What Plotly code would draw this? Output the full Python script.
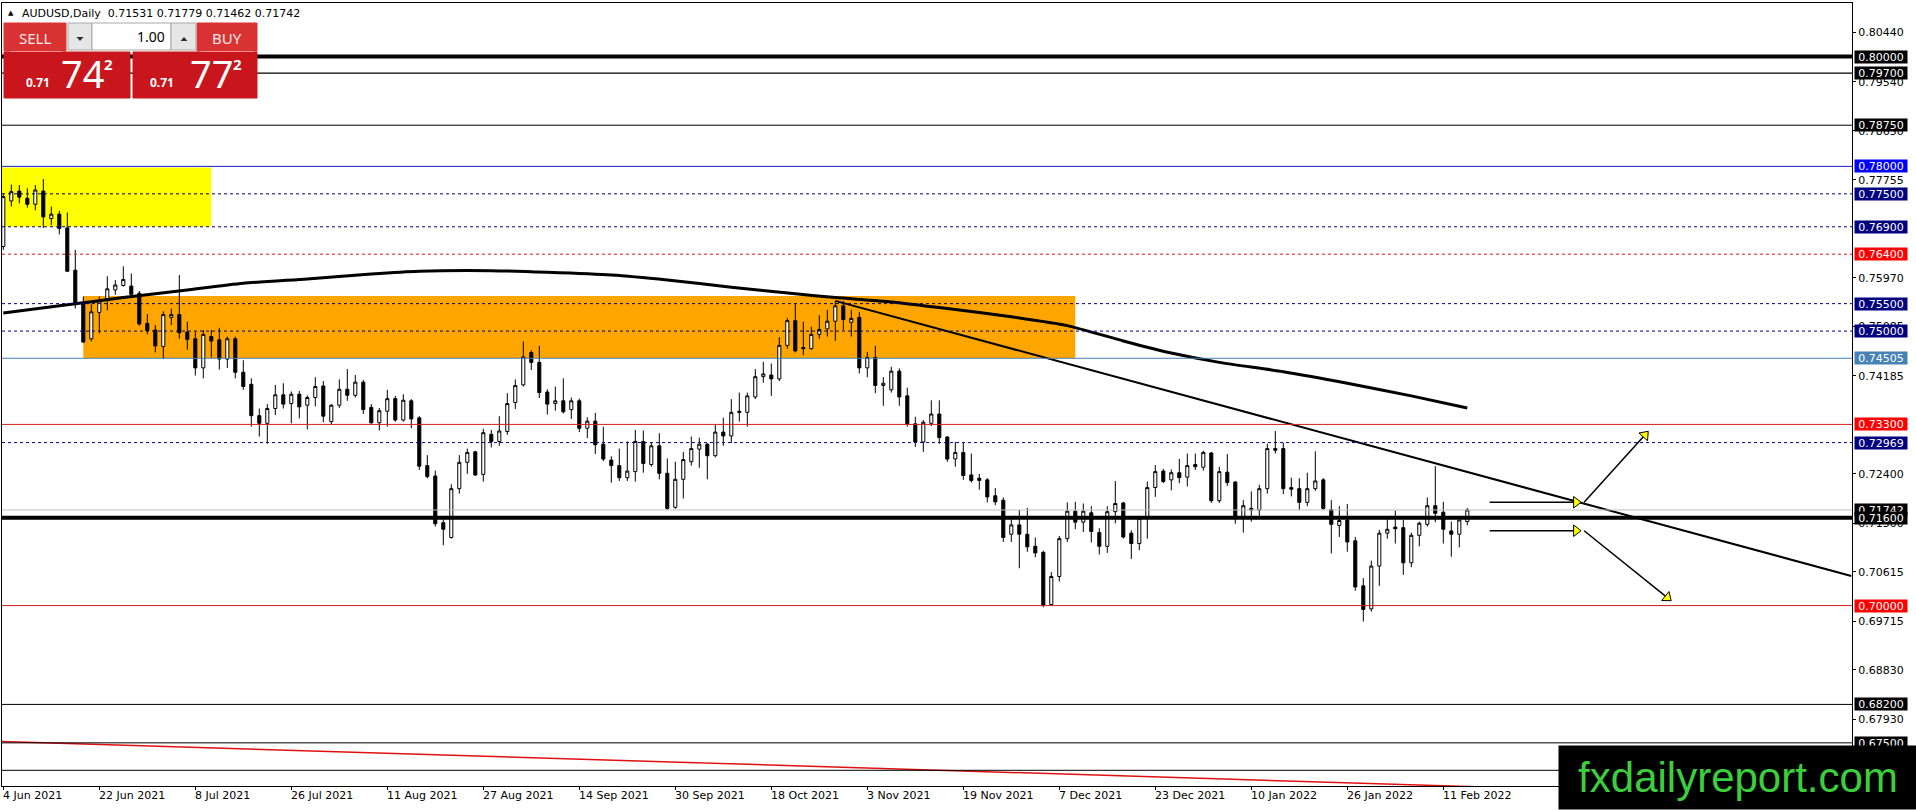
import math
import plotly.graph_objects as go

# canvas and plot area in screen pixels (MT4 style chart)
W, H = 1916, 810
ML, MR, MT, MB = 2, 64, 3, 24
PW, PH = W - ML - MR, H - MT - MB
BAR_PX = 8.0
X_LO = -1.3 / BAR_PX
X_HI = X_LO + PW / BAR_PX
Y_HI, Y_LO = 0.80976, 0.66714

# AUDUSD daily candles, 4 Jun 2021 .. 16 Feb 2022
opens = [
    0.7654, 0.7737, 0.7755, 0.7742, 0.7731, 0.7755, 0.7705, 0.7713, 0.7688, 0.7611,
    0.7551, 0.7486, 0.7534, 0.7557, 0.7575, 0.7583, 0.7582, 0.7569, 0.7514, 0.7502,
    0.7472, 0.7525, 0.7530, 0.7498, 0.7486, 0.7433, 0.7490, 0.7484, 0.7449, 0.7486,
    0.7425, 0.7403, 0.7346, 0.7332, 0.7359, 0.7384, 0.7368, 0.7385, 0.7365, 0.7379,
    0.7400, 0.7335, 0.7365, 0.7394, 0.7383, 0.7407, 0.7361, 0.7333, 0.7354, 0.7377,
    0.7338, 0.7373, 0.7342, 0.7255, 0.7236, 0.7151, 0.7124, 0.7213, 0.7261, 0.7280,
    0.7239, 0.7312, 0.7299, 0.7317, 0.7370, 0.7402, 0.7461, 0.7443, 0.7389, 0.7368,
    0.7373, 0.7357, 0.7373, 0.7323, 0.7336, 0.7294, 0.7265, 0.7255, 0.7233, 0.7244,
    0.7299, 0.7257, 0.7291, 0.7241, 0.7179, 0.7230, 0.7262, 0.7285, 0.7294, 0.7273,
    0.7316, 0.7309, 0.7354, 0.7352, 0.7380, 0.7417, 0.7420, 0.7413, 0.7474, 0.7519,
    0.7470, 0.7468, 0.7494, 0.7504, 0.7518, 0.7546, 0.7516, 0.7525, 0.7433, 0.7452,
    0.7401, 0.7393, 0.7427, 0.7382, 0.7331, 0.7298, 0.7332, 0.7349, 0.7307, 0.7267,
    0.7279, 0.7238, 0.7232, 0.7229, 0.7200, 0.7192, 0.7130, 0.7147, 0.7130, 0.7108,
    0.7097, 0.7002, 0.7053, 0.7122, 0.7172, 0.7152, 0.7169, 0.7133, 0.7108, 0.7171,
    0.7187, 0.7132, 0.7113, 0.7159, 0.7215, 0.7245, 0.7229, 0.7242, 0.7234, 0.7257,
    0.7252, 0.7278, 0.7191, 0.7243, 0.7225, 0.7162, 0.7177, 0.7174, 0.7213, 0.7286,
    0.7286, 0.7215, 0.7213, 0.7188, 0.7213, 0.7229, 0.7175, 0.7146, 0.7156, 0.7118,
    0.7036, 0.6994, 0.7072, 0.7132, 0.7143, 0.7142, 0.7078, 0.7128, 0.7148, 0.7182,
    0.7170, 0.7136, 0.7130, 0.71531,
]
highs = [
    0.7750, 0.7767, 0.7766, 0.7760, 0.7766, 0.7777, 0.7727, 0.7719, 0.7716, 0.7648,
    0.7563, 0.7549, 0.7563, 0.7600, 0.7593, 0.7618, 0.7605, 0.7573, 0.7531, 0.7511,
    0.7536, 0.7541, 0.7602, 0.7517, 0.7499, 0.7502, 0.7502, 0.7506, 0.7490, 0.7490,
    0.7447, 0.7414, 0.7359, 0.7367, 0.7402, 0.7405, 0.7390, 0.7391, 0.7383, 0.7416,
    0.7409, 0.7367, 0.7412, 0.7431, 0.7420, 0.7411, 0.7367, 0.7360, 0.7393, 0.7382,
    0.7385, 0.7376, 0.7345, 0.7274, 0.7246, 0.7159, 0.7221, 0.7274, 0.7286, 0.7282,
    0.7322, 0.7320, 0.7345, 0.7387, 0.7412, 0.7481, 0.7465, 0.7473, 0.7394, 0.7399,
    0.7414, 0.7379, 0.7377, 0.7343, 0.7351, 0.7326, 0.7272, 0.7286, 0.7299, 0.7320,
    0.7319, 0.7297, 0.7314, 0.7268, 0.7262, 0.7280, 0.7308, 0.7306, 0.7296, 0.7329,
    0.7342, 0.7376, 0.7388, 0.7388, 0.7431, 0.7444, 0.7441, 0.7489, 0.7524, 0.7550,
    0.7517, 0.7508, 0.7529, 0.7539, 0.7555, 0.7555, 0.7539, 0.7535, 0.7462, 0.7473,
    0.7416, 0.7435, 0.7432, 0.7397, 0.7344, 0.7338, 0.7374, 0.7374, 0.7309, 0.7298,
    0.7298, 0.7277, 0.7240, 0.7232, 0.7214, 0.7197, 0.7159, 0.7174, 0.7178, 0.7124,
    0.7100, 0.7061, 0.7127, 0.7188, 0.7189, 0.7186, 0.7181, 0.7141, 0.7181, 0.7227,
    0.7189, 0.7137, 0.7163, 0.7226, 0.7256, 0.7249, 0.7248, 0.7267, 0.7277, 0.7277,
    0.7282, 0.7280, 0.7253, 0.7276, 0.7227, 0.7192, 0.7208, 0.7220, 0.7295, 0.7318,
    0.7297, 0.7233, 0.7232, 0.7242, 0.7281, 0.7232, 0.7192, 0.7181, 0.7185, 0.7125,
    0.7050, 0.7082, 0.7138, 0.7162, 0.7173, 0.7156, 0.7133, 0.7153, 0.7197, 0.7254,
    0.7189, 0.7153, 0.7156, 0.71779,
]
lows = [
    0.7648, 0.7727, 0.7733, 0.7725, 0.7720, 0.7688, 0.7693, 0.7676, 0.7608, 0.7541,
    0.7478, 0.7481, 0.7496, 0.7538, 0.7566, 0.7581, 0.7560, 0.7510, 0.7494, 0.7461,
    0.7449, 0.7511, 0.7486, 0.7466, 0.7419, 0.7414, 0.7452, 0.7430, 0.7433, 0.7414,
    0.7393, 0.7326, 0.7308, 0.7295, 0.7347, 0.7359, 0.7332, 0.7341, 0.7321, 0.7363,
    0.7334, 0.7330, 0.7360, 0.7373, 0.7379, 0.7349, 0.7331, 0.7319, 0.7326, 0.7335,
    0.7335, 0.7323, 0.7247, 0.7232, 0.7144, 0.7110, 0.7122, 0.7204, 0.7240, 0.7236,
    0.7226, 0.7288, 0.7291, 0.7311, 0.7358, 0.7399, 0.7429, 0.7378, 0.7348, 0.7355,
    0.7350, 0.7340, 0.7316, 0.7305, 0.7276, 0.7263, 0.7224, 0.7227, 0.7227, 0.7226,
    0.7242, 0.7253, 0.7230, 0.7174, 0.7176, 0.7195, 0.7255, 0.7251, 0.7230, 0.7270,
    0.7291, 0.7296, 0.7335, 0.7326, 0.7376, 0.7406, 0.7382, 0.7409, 0.7468, 0.7461,
    0.7456, 0.7466, 0.7486, 0.7490, 0.7482, 0.7502, 0.7490, 0.7423, 0.7416, 0.7387,
    0.7364, 0.7388, 0.7364, 0.7326, 0.7289, 0.7280, 0.7327, 0.7295, 0.7262, 0.7253,
    0.7229, 0.7224, 0.7211, 0.7188, 0.7183, 0.7116, 0.7116, 0.7068, 0.7098, 0.7088,
    0.6997, 0.7000, 0.7044, 0.7116, 0.7139, 0.7134, 0.7115, 0.7093, 0.7096, 0.7150,
    0.7122, 0.7085, 0.7101, 0.7122, 0.7198, 0.7223, 0.7210, 0.7223, 0.7217, 0.7247,
    0.7246, 0.7187, 0.7187, 0.7218, 0.7149, 0.7133, 0.7153, 0.7162, 0.7204, 0.7277,
    0.7203, 0.7199, 0.7174, 0.7181, 0.7209, 0.7174, 0.7095, 0.7125, 0.7098, 0.7027,
    0.6971, 0.6989, 0.7036, 0.7122, 0.7113, 0.7056, 0.7070, 0.7108, 0.7144, 0.7152,
    0.7113, 0.7089, 0.7106, 0.71462,
]
closes = [
    0.7745, 0.7754, 0.7744, 0.7731, 0.7757, 0.7708, 0.7713, 0.7687, 0.7609, 0.7551,
    0.7480, 0.7535, 0.7555, 0.7577, 0.7584, 0.7594, 0.7567, 0.7513, 0.7501, 0.7473,
    0.7530, 0.7530, 0.7497, 0.7485, 0.7433, 0.7494, 0.7482, 0.7449, 0.7486, 0.7425,
    0.7399, 0.7346, 0.7332, 0.7359, 0.7384, 0.7367, 0.7385, 0.7362, 0.7379, 0.7399,
    0.7345, 0.7365, 0.7394, 0.7383, 0.7407, 0.7357, 0.7333, 0.7355, 0.7377, 0.7338,
    0.7374, 0.7340, 0.7254, 0.7235, 0.7149, 0.7139, 0.7213, 0.7261, 0.7279, 0.7238,
    0.7315, 0.7299, 0.7318, 0.7368, 0.7401, 0.7453, 0.7443, 0.7388, 0.7367, 0.7373,
    0.7353, 0.7373, 0.7323, 0.7336, 0.7293, 0.7267, 0.7255, 0.7233, 0.7245, 0.7299,
    0.7259, 0.7291, 0.7241, 0.7177, 0.7230, 0.7266, 0.7286, 0.7294, 0.7273, 0.7316,
    0.7309, 0.7352, 0.7352, 0.7382, 0.7417, 0.7422, 0.7413, 0.7474, 0.7519, 0.7464,
    0.7468, 0.7494, 0.7503, 0.7518, 0.7546, 0.7521, 0.7523, 0.7433, 0.7452, 0.7401,
    0.7405, 0.7427, 0.7380, 0.7331, 0.7298, 0.7334, 0.7349, 0.7306, 0.7267, 0.7279,
    0.7237, 0.7228, 0.7228, 0.7198, 0.7189, 0.7124, 0.7147, 0.7130, 0.7107, 0.7096,
    0.7001, 0.7053, 0.7122, 0.7172, 0.7152, 0.7172, 0.7135, 0.7108, 0.7171, 0.7186,
    0.7125, 0.7113, 0.7159, 0.7215, 0.7244, 0.7226, 0.7242, 0.7233, 0.7255, 0.7253,
    0.7279, 0.7191, 0.7244, 0.7224, 0.7162, 0.7182, 0.7174, 0.7213, 0.7286, 0.7283,
    0.7213, 0.7212, 0.7188, 0.7213, 0.7227, 0.7177, 0.7148, 0.7155, 0.7116, 0.7034,
    0.6993, 0.7072, 0.7132, 0.7139, 0.7140, 0.7078, 0.7128, 0.7150, 0.7182, 0.7168,
    0.7139, 0.7130, 0.7156, 0.71742,
]

date_idx = list(range(0, 181, 12))
date_labels = ['4 Jun 2021', '22 Jun 2021', '8 Jul 2021', '26 Jul 2021', '11 Aug 2021',
               '27 Aug 2021', '14 Sep 2021', '30 Sep 2021', '18 Oct 2021', '3 Nov 2021',
               '19 Nov 2021', '7 Dec 2021', '23 Dec 2021', '10 Jan 2022', '26 Jan 2022',
               '11 Feb 2022']

# moving average read at a handful of bars
ma_idx = [0, 8, 15, 23, 30, 38, 46, 52, 61, 68, 76, 83, 91, 99, 104, 111, 118, 126,
          133, 140, 146, 152, 160, 168, 176, 183]
ma_vals = [0.7533, 0.7548, 0.7561, 0.7575, 0.7587, 0.7595, 0.7604, 0.7609, 0.7610,
           0.7607, 0.7602, 0.7593, 0.7580, 0.7568, 0.7561, 0.7553, 0.7541, 0.7526,
           0.7510, 0.7482, 0.7460, 0.7443, 0.7426, 0.7405, 0.7382, 0.7360]

trend_idx = [104, 231]
trend_vals = [0.7555, 0.7054]
red_trend_idx = [-1, 231]
red_trend_vals = [0.6753, 0.6649]

# horizontal levels: price, colour, width, dash
levels = [
    (0.80000, 'black', 4, 'solid'),
    (0.79700, 'black', 1.3, 'solid'),
    (0.78750, 'black', 1, 'solid'),
    (0.78000, '#1c1cc8', 1, 'solid'),
    (0.77500, '#000080', 1, '3px,3px'),
    (0.76900, '#000080', 1, '3px,3px'),
    (0.76400, '#e01010', 1, '3px,3px'),
    (0.75500, '#000080', 1, '3px,3px'),
    (0.75000, '#000080', 1, '3px,3px'),
    (0.74505, '#4682b4', 1, 'solid'),
    (0.73300, '#d81e1e', 1, 'solid'),
    (0.72969, '#000080', 1, '3px,3px'),
    (0.71742, '#c0c0c0', 1, 'solid'),
    (0.71600, 'black', 4, 'solid'),
    (0.70000, '#d01c1c', 1, 'solid'),
    (0.68200, 'black', 1, 'solid'),
    (0.67500, 'black', 1, 'solid'),
    (0.67000, 'black', 1, 'solid'),
]
box_labels = [
    (0.80000, 'black'), (0.79700, 'black'), (0.78750, 'black'), (0.78000, '#0000ff'),
    (0.77500, '#000080'), (0.76900, '#000080'), (0.76400, '#ff0000'), (0.75500, '#000080'),
    (0.75000, '#000080'), (0.74505, '#4682b4'), (0.73300, '#ff0000'), (0.72969, '#000080'),
    (0.71742, 'black'), (0.71600, 'black'), (0.70000, '#ff0000'), (0.68200, 'black'),
    (0.67500, 'black'),
]
# scale labels (the ones fully hidden behind boxes are left out)
axis_ticks = [0.80440, 0.79540, 0.78650, 0.77755, 0.75970, 0.75085, 0.74185,
              0.72400, 0.71500, 0.70615, 0.69715, 0.68830, 0.67930]

yellow_idx, yellow_px = [-3, 26], [0.7690, 0.7798]
orange_idx, orange_px = [10, 134], [0.74505, 0.7564]

# arrows (start bar, start price, end bar, end price)
arrows = [
    (185.8, 0.71882, 196.6, 0.71882),
    (185.8, 0.71364, 196.6, 0.71364),
    (197.6, 0.71882, 205.2, 0.73107),
    (197.6, 0.71364, 208.0, 0.70146),
]


def px(x):
    return (x - ML) / PW


def py(y):
    return 1 - (y - MT) / PH


fig = go.Figure()

fig.add_trace(go.Candlestick(
    x=list(range(len(opens))), open=opens, high=highs, low=lows, close=closes,
    increasing=dict(line=dict(color='black', width=1), fillcolor='white'),
    decreasing=dict(line=dict(color='black', width=1), fillcolor='black'),
    whiskerwidth=0, hoverinfo='skip', showlegend=False
))

fig.add_trace(go.Scatter(x=ma_idx, y=ma_vals, mode='lines',
                         line=dict(color='black', width=3, shape='spline', smoothing=0.6),
                         hoverinfo='skip', showlegend=False))
fig.add_trace(go.Scatter(x=trend_idx, y=trend_vals, mode='lines',
                         line=dict(color='black', width=2), hoverinfo='skip', showlegend=False))
fig.add_trace(go.Scatter(x=red_trend_idx, y=red_trend_vals, mode='lines',
                         line=dict(color='#e01010', width=1.5), hoverinfo='skip', showlegend=False))

# zones behind candles
fig.add_shape(type='rect', x0=yellow_idx[0], x1=yellow_idx[1], y0=yellow_px[0], y1=yellow_px[1],
              fillcolor='#ffff00', line_width=0, layer='below')
fig.add_shape(type='rect', x0=orange_idx[0], x1=orange_idx[1], y0=orange_px[0], y1=orange_px[1],
              fillcolor='#ffa500', line_width=0, layer='below')

for p, c, w, d in levels:
    fig.add_shape(type='line', xref='paper', x0=0, x1=1, yref='y', y0=p, y1=p,
                  line=dict(color=c, width=w, dash=d), layer='above')

# arrows: black shaft, yellow head
ax_px = PW / (X_HI - X_LO)
ay_px = PH / (Y_HI - Y_LO)
for x0, y0, x1, y1 in arrows:
    fig.add_trace(go.Scatter(x=[x0, x1], y=[y0, y1], mode='lines',
                             line=dict(color='black', width=1.5),
                             hoverinfo='skip', showlegend=False))
    ang = math.degrees(math.atan2((x1 - x0) * ax_px, (y1 - y0) * ay_px))
    fig.add_trace(go.Scatter(x=[x1], y=[y1], mode='markers',
                             marker=dict(symbol='triangle-up', size=10, angle=ang,
                                         color='#ffff00', line=dict(color='black', width=1)),
                             hoverinfo='skip', showlegend=False))

# price boxes on the right axis
for p, c in box_labels:
    fig.add_annotation(xref='paper', x=1, xanchor='left', xshift=2, yref='y', y=p,
                       yanchor='middle', text=f'{p:.5f}', showarrow=False,
                       font=dict(size=11, color='white'), bgcolor=c,
                       width=52, height=12, borderpad=0)

# date labels
for i, lab in zip(date_idx, date_labels):
    fig.add_annotation(xref='x', x=i, xanchor='left', xshift=-2, yref='paper', y=0,
                       yanchor='top', yshift=-1, text=lab, showarrow=False,
                       font=dict(size=11, color='black'))

# header
fig.add_annotation(xref='paper', yref='paper', x=px(6), y=py(13), xanchor='left',
                   yanchor='middle', text='\u25b2', showarrow=False,
                   font=dict(size=7, color='black'))
fig.add_annotation(xref='paper', yref='paper', x=px(20), y=py(13), xanchor='left',
                   yanchor='middle', showarrow=False, font=dict(size=11, color='black'),
                   text='AUDUSD,Daily\u00a0\u00a00.71531\u00a00.71779\u00a00.71462\u00a00.71742')

# one-click trading panel
panel = [
    (4, 23, 66, 51, '#d83232', None),
    (197, 23, 257, 51, '#d83232', None),
    (68, 23, 92, 50, '#e6e6e6', '#a8a8a8'),
    (92, 23, 171, 50, 'white', '#a8a8a8'),
    (171, 23, 196, 50, '#e6e6e6', '#a8a8a8'),
    (4, 52, 130, 98, '#c8161c', None),
    (133, 52, 257, 98, '#c8161c', None),
]
for x0, y0, x1, y1, fc, lc in panel:
    fig.add_shape(type='rect', xref='paper', yref='paper', x0=px(x0), x1=px(x1),
                  y0=py(y1), y1=py(y0), fillcolor=fc,
                  line=dict(color=lc or fc, width=1), layer='above')
fig.add_shape(type='line', xref='paper', yref='paper', x0=px(10), x1=px(62),
              y0=py(51.5), y1=py(51.5), line=dict(color='#f09090', width=1), layer='above')
fig.add_shape(type='line', xref='paper', yref='paper', x0=px(200), x1=px(254),
              y0=py(51.5), y1=py(51.5), line=dict(color='#f09090', width=1), layer='above')
fig.add_shape(type='path', xref='paper', yref='paper', fillcolor='#303030', line_width=0,
              path=f'M {px(76.5)} {py(37)} L {px(83.5)} {py(37)} L {px(80)} {py(41)} Z',
              layer='above')
fig.add_shape(type='path', xref='paper', yref='paper', fillcolor='#303030', line_width=0,
              path=f'M {px(180.5)} {py(41)} L {px(187.5)} {py(41)} L {px(184)} {py(37)} Z',
              layer='above')

panel_text = [
    (35, 38, 'SELL', 15, '#ffe8e8', False, 'center'),
    (227, 38, 'BUY', 15, '#ffe8e8', False, 'center'),
    (167, 37, '1.00', 14, 'black', False, 'right'),
    (38, 82, '0.71', 12, 'white', True, 'center'),
    (82, 73, '74', 38, 'white', False, 'center'),
    (108, 64, '2', 15, 'white', True, 'center'),
    (162, 82, '0.71', 12, 'white', True, 'center'),
    (211, 73, '77', 38, 'white', False, 'center'),
    (237, 64, '2', 15, 'white', True, 'center'),
]
for x, y, t, s, c, bold, anc in panel_text:
    fig.add_annotation(xref='paper', yref='paper', x=px(x), y=py(y), xanchor=anc,
                       yanchor='middle', text=f'<b>{t}</b>' if bold else t, showarrow=False,
                       font=dict(family='Noto Sans', size=s, color=c))

# watermark
fig.add_annotation(xref='paper', yref='paper', x=px(1558), y=py(810), xanchor='left',
                   yanchor='bottom', text='fxdailyreport.com', showarrow=False,
                   font=dict(family='Liberation Sans', size=42, color='#3ccf3c'),
                   bgcolor='black', width=358, height=63, borderpad=0, align='center')

fig.update_layout(
    width=W, height=H,
    margin=dict(l=ML, r=MR, t=MT, b=MB),
    paper_bgcolor='white', plot_bgcolor='white',
    font=dict(family='DejaVu Sans', size=11, color='black'),
    showlegend=False, boxgap=0.45, hovermode=False,
    xaxis=dict(range=[X_LO, X_HI], rangeslider=dict(visible=False), showgrid=False,
               zeroline=False, tickvals=date_idx, showticklabels=False, ticks='outside',
               ticklen=3, tickcolor='black', showline=True, linecolor='black',
               linewidth=1, mirror=True, fixedrange=True),
    yaxis=dict(range=[Y_LO, Y_HI], side='right', showgrid=False, zeroline=False,
               tickvals=axis_ticks, ticktext=[f'{v:.5f}' for v in axis_ticks],
               ticks='outside', ticklen=3, tickcolor='black', showline=True,
               linecolor='black', linewidth=1, mirror=True, fixedrange=True,
               tickfont=dict(size=11, color='black')),
)

fig.write_html('out.html', config={'displayModeBar': False},
               post_script="document.body.style.margin='0';document.body.style.overflow='hidden';")
